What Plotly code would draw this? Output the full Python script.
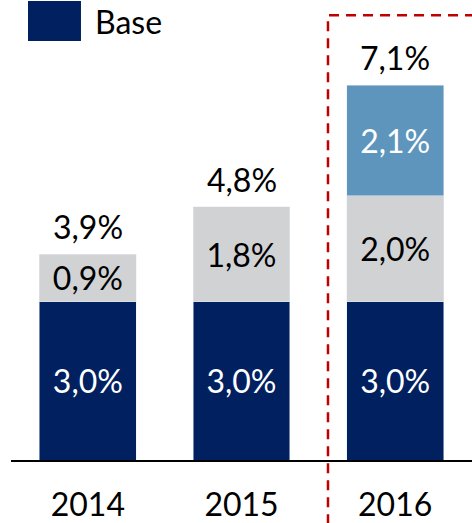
import plotly.graph_objects as go

years = ["2014", "2015", "2016"]
base = [3.0, 3.0, 3.0]
extra = [0.9, 1.8, 2.0]
upside = [None, None, 2.1]
totals = [3.9, 4.8, 7.1]

NAVY = "#002060"
GRAY = "#D1D2D4"
BLUE = "#5E95BC"
FONT = "Lato"
FS = 32

fig = go.Figure()
fig.add_trace(go.Bar(x=years, y=base, name="Base", marker_color=NAVY,
                     texttemplate="%{y:.1f}%", textposition="inside",
                     insidetextanchor="middle", constraintext="none",
                     textfont=dict(color="white", size=FS, family=FONT),
                     showlegend=False))
fig.add_trace(go.Bar(x=years, y=extra, name="Extra", marker_color=GRAY,
                     texttemplate="%{y:.1f}%", textposition="inside",
                     insidetextanchor="middle", constraintext="none",
                     textfont=dict(color="black", size=FS, family=FONT),
                     showlegend=False))
fig.add_trace(go.Bar(x=years, y=upside, name="Upside", marker_color=BLUE,
                     texttemplate="%{y:.1f}%", textposition="inside",
                     insidetextanchor="middle", constraintext="none",
                     textfont=dict(color="white", size=FS, family=FONT),
                     showlegend=False))

for i, t in enumerate(totals):
    fig.add_annotation(x=i, y=t, text=f"{t:.1f}%".replace(".", ","),
                       showarrow=False, yanchor="bottom", yshift=6,
                       font=dict(size=FS, color="black", family=FONT))

# legend (manual)
fig.add_shape(type="rect", xref="paper", yref="paper",
              x0=0.0369, x1=0.1518, y0=0.9109, y1=0.9978,
              fillcolor=NAVY, line_width=0)
fig.add_annotation(xref="paper", yref="paper", x=0.178, y=0.954,
                   xanchor="left", yanchor="middle", text="Base",
                   showarrow=False, font=dict(size=FS, color="black", family=FONT))

# dashed highlight box around 2016
fig.add_shape(type="rect", xref="paper", yref="paper",
              x0=0.6876, x1=1.1, y0=-0.3, y1=0.967,
              line=dict(color="#C00000", width=2.5, dash="10px,7px"),
              fillcolor="rgba(0,0,0,0)", layer="above")

fig.update_layout(
    width=472, height=523,
    margin=dict(l=11, r=0, t=0, b=63),
    barmode="stack", bargap=0.37,
    separators=",.",
    plot_bgcolor="white", paper_bgcolor="white",
    font=dict(family=FONT, size=FS, color="black"),
    xaxis=dict(type="category", showline=True, linecolor="black", linewidth=2,
               ticks="", showgrid=False, range=[-0.5, 2.5],
               ticklabelstandoff=16,
               tickfont=dict(size=FS, family=FONT, color="black")),
    yaxis=dict(visible=False, range=[0, 8.71], showgrid=False),
    showlegend=False,
)

fig.write_html("out.html", config={"displayModeBar": False},
               post_script="document.body.style.margin='0px';")
